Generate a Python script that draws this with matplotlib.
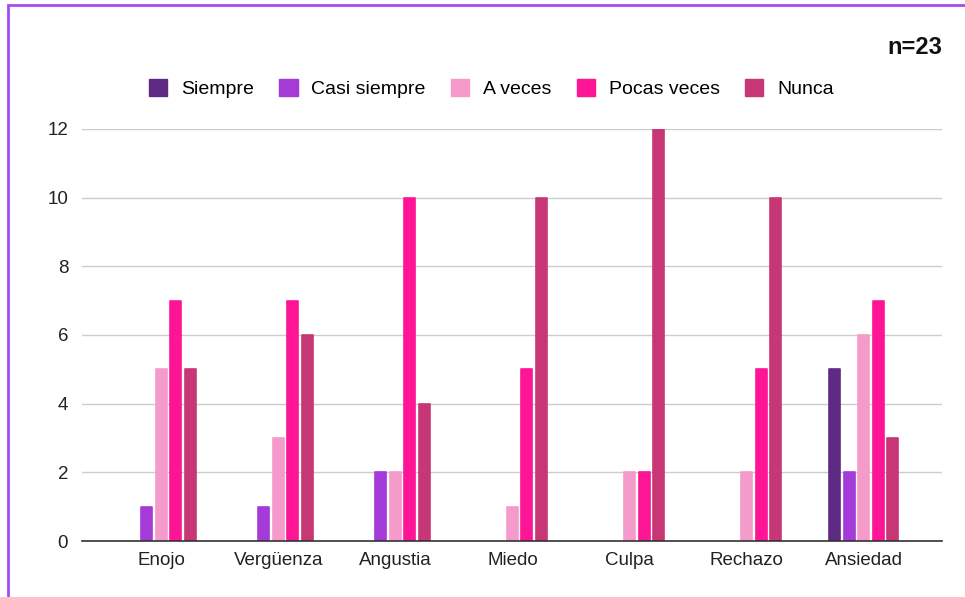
import matplotlib.pyplot as plt
import numpy as np
from matplotlib.patches import Rectangle, Patch

# Conteo de respuestas por emoción
emociones = ['Enojo', 'Vergüenza', 'Angustia', 'Miedo', 'Culpa', 'Rechazo', 'Ansiedad']
siempre = [0, 0, 0, 0, 0, 0, 5]
casi_siempre = [1, 1, 2, 0, 0, 0, 2]
a_veces = [5, 3, 2, 1, 2, 2, 6]
pocas_veces = [7, 7, 10, 5, 2, 5, 7]
nunca = [5, 6, 4, 10, 12, 10, 3]

series = [
    ('Siempre', siempre, '#5f2a84'),
    ('Casi siempre', casi_siempre, '#a43bd9'),
    ('A veces', a_veces, '#f59bcb'),
    ('Pocas veces', pocas_veces, '#fe1595'),
    ('Nunca', nunca, '#c83775'),
]

plt.rcParams['font.family'] = ['Liberation Sans', 'DejaVu Sans']

fig = plt.figure(figsize=(9.65, 5.97), dpi=100)
ax = fig.add_axes([0.085, 0.0938, 0.891, 0.6902])

x = np.arange(len(emociones))
step = 0.124
width = 0.094
handles = []
for i, (nombre, valores, color) in enumerate(series):
    offs = (i - 2) * step
    bars = ax.bar(x + offs, valores, width, color=color,
                  edgecolor=color, linewidth=1.2, joinstyle='round', zorder=3)
    # sin contorno en las barras vacías
    for b, v in zip(bars, valores):
        if v == 0:
            b.set_visible(False)
    handles.append(Patch(facecolor=color, edgecolor=color, linewidth=1,
                         joinstyle='round', label=nombre))

ax.set_xlim(-0.677, 6.668)
ax.set_ylim(0, 12)
ax.set_yticks(range(0, 13, 2))
ax.set_xticks(x)
ax.set_xticklabels(emociones, fontsize=13.5, color='#222222')
ax.tick_params(axis='y', labelsize=13.5, colors='#222222', length=0, pad=10)
ax.tick_params(axis='x', length=0, pad=8)
ax.grid(axis='y', color='#cccccc', linewidth=1, zorder=0)
for s in ['top', 'right', 'left']:
    ax.spines[s].set_visible(False)
ax.spines['bottom'].set_color('#333333')
ax.spines['bottom'].set_linewidth(1.2)
ax.spines['bottom'].set_zorder(4)

fig.legend(handles=handles, loc='center', bbox_to_anchor=(0.509, 0.851),
           ncol=5, frameon=False, fontsize=14, handlelength=0.95,
           handleheight=0.95, handletextpad=0.7, columnspacing=1.3)

fig.text(0.976, 0.921, 'n=23', ha='right', va='center', fontsize=17,
         fontweight='bold', color='#111111')

# marco del gráfico
fig.patches.append(Rectangle((8 / 965, -0.05), 1.2, 592 / 597 + 0.05,
                             transform=fig.transFigure, fill=False,
                             edgecolor='#a64bf4', linewidth=2))

fig.savefig('out.png', dpi=100)
